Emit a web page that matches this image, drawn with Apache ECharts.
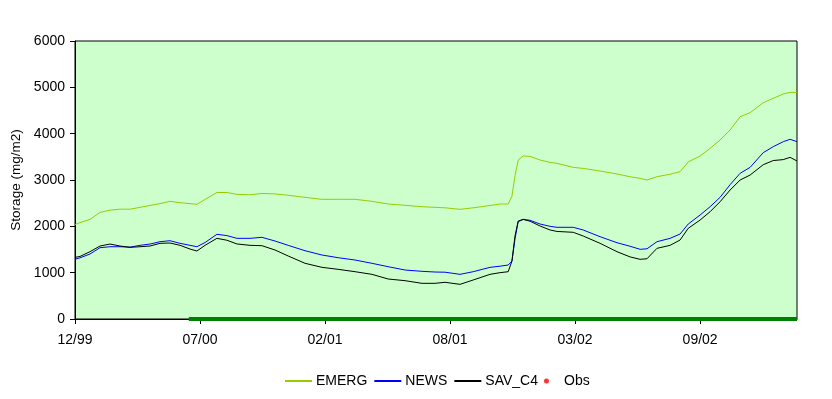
<!DOCTYPE html>
<html>
<head>
<meta charset="utf-8">
<script src="https://cdn.jsdelivr.net/npm/echarts@6/dist/echarts.min.js"></script>
<style>
  html, body { margin: 0; padding: 0; background: #fff; }
  #chart { width: 832px; height: 399px; }
</style>
</head>
<body>
<div id="chart"></div>
<script>
// days since end of Dec 1999
var days = [0, 8, 24, 40, 56, 72, 88, 104, 120, 136, 152, 168, 184, 195, 208, 227, 243, 259, 280, 299,
  320, 341, 368, 395, 421, 448, 475, 501, 528, 555, 576, 592, 616, 637, 664, 680, 693, 699, 704, 709,
  717, 728, 744, 760, 771, 797, 813, 840, 867, 888, 904, 915, 931, 952, 968, 981, 1000, 1016, 1032, 1048,
  1064, 1080, 1101, 1117, 1133, 1144, 1155]

var emerg = [2040, 2080, 2150, 2300, 2350, 2370, 2370, 2410, 2450, 2490, 2540, 2510, 2490, 2475, 2580, 2730, 2730, 2690, 2680, 2710,
  2700, 2670, 2626, 2583, 2583, 2583, 2540, 2482, 2454, 2424, 2410, 2400, 2367, 2400, 2450, 2482, 2482, 2650, 3100, 3430,
  3518, 3510, 3431, 3380, 3360, 3273, 3250, 3194, 3130, 3070, 3036, 3000, 3071, 3125, 3180, 3390, 3518, 3683, 3863, 4079,
  4366, 4452, 4668, 4763, 4856, 4892, 4890]

var news = [1290, 1320, 1403, 1539, 1560, 1560, 1550, 1590, 1618, 1668, 1690, 1633, 1590, 1560, 1650, 1828, 1800, 1741, 1741, 1763,
  1683, 1590, 1474, 1381, 1323, 1273, 1202, 1129, 1057, 1029, 1014, 1010, 964, 1021, 1115, 1140, 1165, 1250, 1741, 2100,
  2150, 2130, 2050, 2000, 1979, 1979, 1921, 1776, 1647, 1570, 1504, 1515, 1668, 1741, 1834, 2050, 2244, 2424, 2626, 2900,
  3144, 3273, 3590, 3719, 3827, 3878, 3827]

var savC4 = [1330, 1350, 1453, 1575, 1618, 1575, 1547, 1560, 1575, 1633, 1640, 1590, 1510, 1467, 1590, 1741, 1700, 1620, 1590, 1582,
  1489, 1360, 1202, 1115, 1072, 1021, 964, 863, 827, 770, 770, 792, 748, 842, 964, 1000, 1021, 1250, 1800, 2115,
  2150, 2110, 2007, 1921, 1890, 1871, 1791, 1633, 1453, 1340, 1288, 1300, 1525, 1590, 1705, 1957, 2136, 2316, 2532, 2784,
  3000, 3107, 3330, 3420, 3440, 3489, 3410]

// observation period bar drawn along the axis
var obsDays = [182, 1155]
var obsBase = [0, 0]
var obs = []

var xTickLabels = ['12/99', '07/00', '02/01', '08/01', '03/02', '09/02']
var xStep = 200

function pairs(xs, ys) {
  return xs.map(function (x, i) { return [x, ys[i]] })
}

var font = 'Liberation Sans, Arial, sans-serif'
var chart = echarts.init(document.getElementById('chart'))

// line-only legend icons (hide the default symbol)
var noDot = { opacity: 0 }

chart.setOption({
  animation: false,
  backgroundColor: '#fff',
  textStyle: { fontFamily: font },
  grid: {
    left: 75,
    right: 35,
    top: 41,
    bottom: 80,
    show: true,
    backgroundColor: '#CCFFCC',
    borderColor: '#000',
    borderWidth: 1
  },
  legend: {
    top: 374,
    left: 284,
    padding: 0,
    itemWidth: 27,
    itemHeight: 5,
    itemGap: 6,
    textStyle: { fontFamily: font, fontSize: 14, color: '#000', padding: [0, 0, 0, -1] },
    data: [
      { name: 'EMERG', itemStyle: noDot },
      { name: 'NEWS', itemStyle: noDot },
      { name: 'SAV_C4', itemStyle: noDot },
      { name: 'Obs', icon: 'circle' }
    ]
  },
  xAxis: {
    type: 'value',
    min: 0,
    max: 1155,
    interval: xStep,
    axisLine: { show: true, lineStyle: { color: '#000', width: 1 } },
    axisTick: { show: true, length: 5, lineStyle: { color: '#000' } },
    splitLine: { show: false },
    axisLabel: {
      margin: 14,
      fontSize: 14,
      color: '#000',
      fontFamily: font,
      showMaxLabel: false,
      formatter: function (v) {
        var i = Math.round(v / xStep)
        return xTickLabels[i] || ''
      }
    }
  },
  yAxis: {
    type: 'value',
    min: 0,
    max: 6000,
    interval: 1000,
    name: 'Storage (mg/m2)',
    nameLocation: 'middle',
    nameRotate: 90,
    nameGap: 44,
    nameTextStyle: { fontSize: 13.5, color: '#000', fontFamily: font },
    axisLine: { show: true, lineStyle: { color: '#000', width: 1 } },
    axisTick: { show: true, length: 5, lineStyle: { color: '#000' } },
    splitLine: { show: false },
    axisLabel: {
      margin: 10,
      fontSize: 14,
      color: '#000',
      fontFamily: font,
      formatter: function (v) { return String(v) }
    }
  },
  series: [
    {
      name: 'EMERG',
      type: 'line',
      data: pairs(days, emerg),
      symbol: 'none',
      itemStyle: { color: '#99CC00' },
      lineStyle: { color: '#99CC00', width: 1 },
      z: 3
    },
    {
      name: 'NEWS',
      type: 'line',
      data: pairs(days, news),
      symbol: 'none',
      itemStyle: { color: '#0000FF' },
      lineStyle: { color: '#0000FF', width: 1 },
      z: 3
    },
    {
      name: 'SAV_C4',
      type: 'line',
      data: pairs(days, savC4),
      symbol: 'none',
      itemStyle: { color: '#000000' },
      lineStyle: { color: '#000000', width: 1 },
      z: 4
    },
    {
      name: 'Obs',
      type: 'scatter',
      data: obs,
      symbolSize: 4,
      itemStyle: { color: '#FF0000' }
    },
    {
      name: 'obsPeriod',
      type: 'line',
      data: pairs(obsDays, obsBase),
      symbol: 'none',
      clip: false,
      lineStyle: { color: '#008000', width: 4 },
      z: 5
    }
  ]
})
</script>
</body>
</html>
